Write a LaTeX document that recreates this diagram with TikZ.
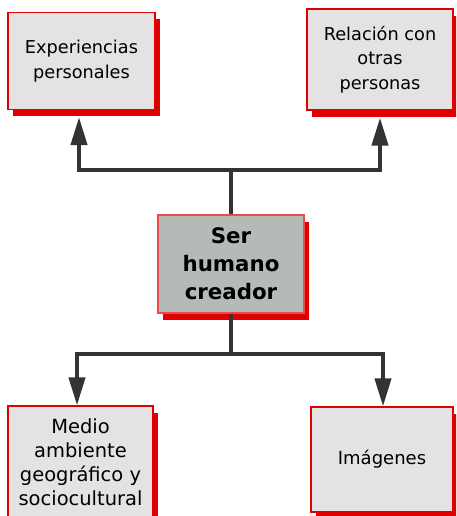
\documentclass[tikz,border=0pt]{standalone}
\usepackage{fontspec}
\setmainfont{DejaVu Sans}
\usetikzlibrary{arrows.meta,shadows,calc}
\definecolor{boxred}{HTML}{E00000}
\definecolor{boxgray}{HTML}{E4E2E2}
\definecolor{centergray}{HTML}{B4BAB6}
\definecolor{linegray}{HTML}{333333}
\begin{document}
\begin{tikzpicture}[x=0.75pt,y=-0.75pt,
  box/.style={draw=boxred, line width=0.9pt, fill=boxgray, align=center,
    inner sep=0pt, font=\fontsize{13.3}{18.4}\selectfont,
    drop shadow={shadow xshift=3.75pt, shadow yshift=-5.25pt, fill=boxred, opacity=1}},
  conn/.style={draw=linegray, line width=3pt},
  arr/.style={conn, -{Triangle[length=21pt, width=12pt]}}]
\useasboundingbox (0,0) rectangle (456,516);
\clip (0,0) rectangle (456,516);
\node[box, minimum width=110.25pt, minimum height=72.75pt] (e1) at (81.5,61) {Experiencias\\personales};
\node[box, minimum width=109.5pt, minimum height=75.75pt] (e2) at (380,59.5) {Relación con\\otras\\personas};
\node[box, fill=centergray, draw=boxred!70, minimum width=109.5pt, minimum height=73.5pt,
  font=\fontsize{16}{21}\selectfont\bfseries] (c) at (231,264) {Ser\\humano\\creador};
\node[box, minimum width=108.75pt, minimum height=84pt, font=\fontsize{14.6}{18}\selectfont] (m) at (80.5,462) {Medio\\ambiente\\geográfico y\\sociocultural};
\node[box, minimum width=106.5pt, minimum height=78.75pt, font=\fontsize{13.5}{18}\selectfont] (im) at (382,459.5) {Imágenes};
\coordinate (tl) at (79,170);
\coordinate (tr) at (380,170);
\coordinate (bl) at (77,354);
\coordinate (br) at (383,354);
\draw[conn] (c.north) -- (c.north |- tl);
\draw[arr] (c.north |- tl) -| ([yshift=-5.25pt]tl |- e1.south);
\draw[arr] (c.north |- tr) -| ([yshift=-5.25pt]tr |- e2.south);
\draw[conn] (c.south) -- (c.south |- bl);
\draw[arr] (c.south |- bl) -| (bl |- m.north);
\draw[arr] (c.south |- br) -| (br |- im.north);
\end{tikzpicture}
\end{document}
